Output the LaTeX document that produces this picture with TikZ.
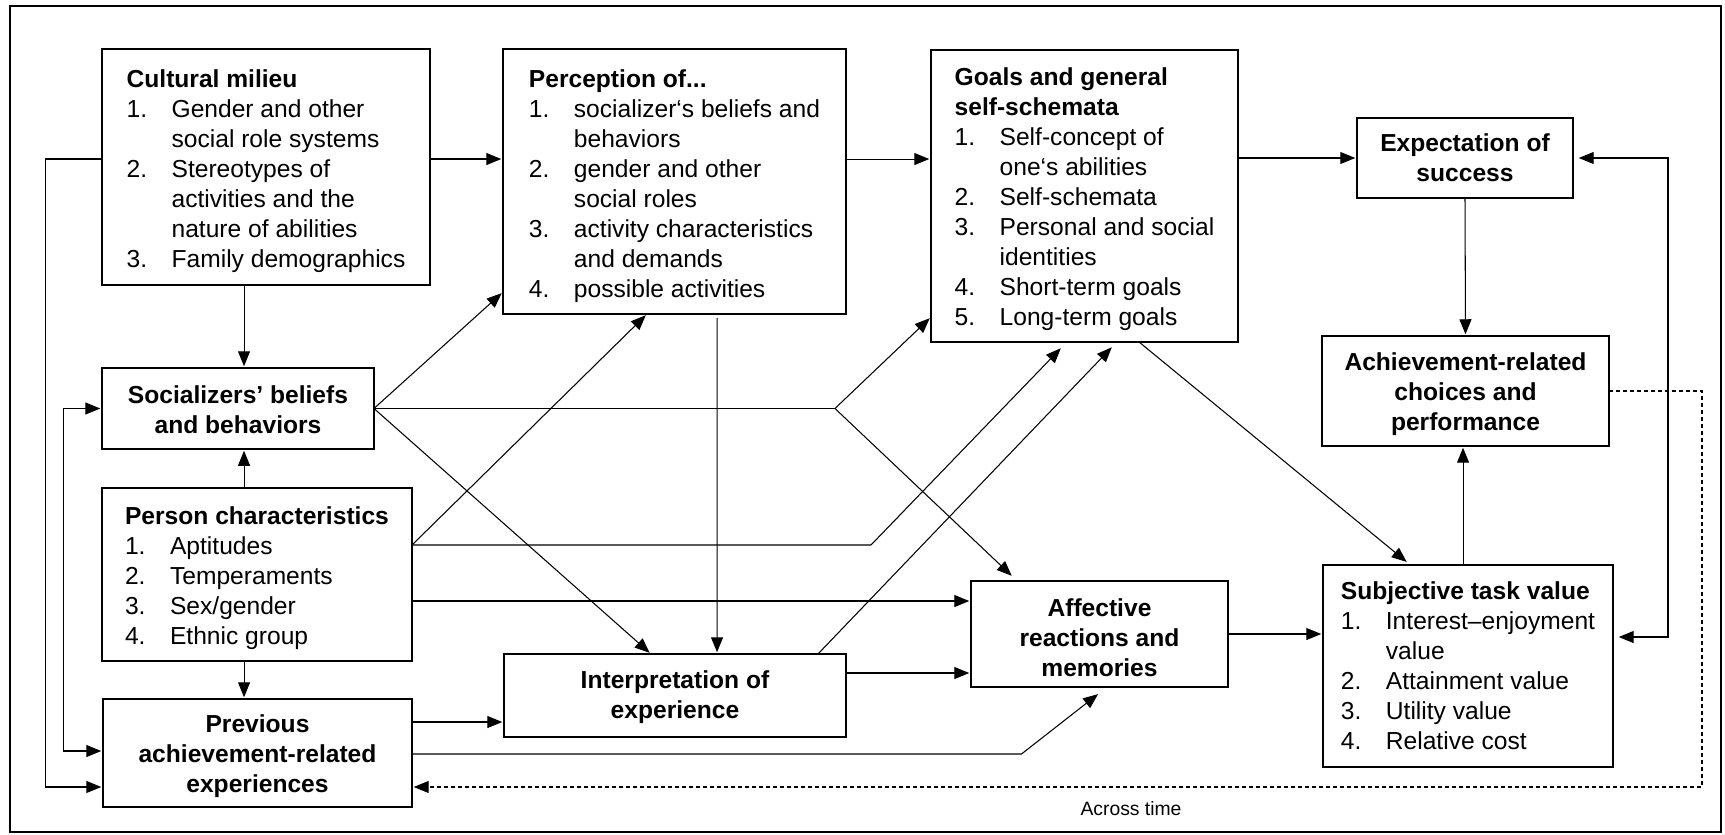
\documentclass[tikz,border=0pt]{standalone}
\usepackage{fontspec}
\setmainfont{Liberation Sans}
\usetikzlibrary{arrows.meta,calc}

% number column of the enumerated boxes
\newcommand\lnum[1]{\makebox[0.9cm][l]{#1}}
% extra room above the first line of a box
\newcommand\topstrut[1]{\rule{0pt}{#1}}

\begin{document}
\begin{tikzpicture}[x=0.02cm,y=-0.02cm,
  >={Triangle[length=0.3cm,width=0.24cm]},
  box/.style={draw,line width=1.1pt,inner sep=0pt,outer sep=0pt,
    font=\fontsize{14}{17.07}\selectfont},
  listbox/.style={box,align=left},
  headbox/.style={box,align=center,
    font=\fontsize{14}{17.07}\selectfont\bfseries},
  conn/.style={line width=0.6pt,->,shorten >=1pt},
  link/.style={line width=0.6pt},
  timeline/.style={conn,dash pattern=on 0.8mm off 0.6mm}]

\useasboundingbox (0,0) rectangle (1725,835);
\draw[line width=1.2pt] (10,6) rectangle (1721,832);

% ---------- boxes ----------
\node[listbox,minimum width=6.56cm,minimum height=4.72cm] (cm) at (266,167)
  {\topstrut{15pt}\textbf{Cultural milieu}\\
   \lnum{1.}Gender and other\\
   \lnum{}social role systems\\
   \lnum{2.}Stereotypes of\\
   \lnum{}activities and the\\
   \lnum{}nature of abilities\\
   \lnum{3.}Family demographics};

\node[listbox,minimum width=6.86cm,minimum height=5.30cm] (perc) at (674.5,181.5)
  {\topstrut{15pt}\textbf{Perception of...}\\
   \lnum{1.}socializer‘s beliefs and\\
   \lnum{}behaviors\\
   \lnum{2.}gender and other\\
   \lnum{}social roles\\
   \lnum{3.}activity characteristics\\
   \lnum{}and demands\\
   \lnum{4.}possible activities};

\node[listbox,minimum width=6.14cm,minimum height=5.84cm] (goals) at (1084.5,196)
  {\topstrut{14pt}\textbf{Goals and general}\\
   \textbf{self-schemata}\\
   \lnum{1.}Self-concept of\\
   \lnum{}one‘s abilities\\
   \lnum{2.}Self-schemata\\
   \lnum{3.}Personal and social\\
   \lnum{}identities\\
   \lnum{4.}Short-term goals\\
   \lnum{5.}Long-term goals};

\node[headbox,minimum width=4.32cm,minimum height=1.60cm] (expect) at (1465,158)
  {Expectation of\\ success};

\node[headbox,minimum width=5.74cm,minimum height=2.20cm] (achieve) at (1465.5,391)
  {\topstrut{13.5pt}Achievement-related\\ choices and\\ performance};

\node[headbox,minimum width=5.44cm,minimum height=1.62cm] (soc) at (238,408.5)
  {\topstrut{12pt}Socializers’ beliefs\\ and behaviors};

\node[listbox,minimum width=6.20cm,minimum height=3.46cm] (person) at (257,574.5)
  {\topstrut{14pt}\textbf{Person characteristics}\\
   \lnum{1.}Aptitudes\\
   \lnum{2.}Temperaments\\
   \lnum{3.}Sex/gender\\
   \lnum{4.}Ethnic group};

\node[headbox,minimum width=6.18cm,minimum height=2.16cm] (prev) at (257.5,753)
  {\topstrut{14pt}Previous\\ achievement-related\\ experiences};

\node[headbox,minimum width=6.84cm,minimum height=1.66cm] (interp) at (675,695.5)
  {\topstrut{12pt}Interpretation of\\ experience};

\node[headbox,minimum width=5.14cm,minimum height=2.12cm] (affect) at (1099.5,634)
  {\topstrut{14pt}Affective\\ reactions and\\ memories};

\node[listbox,minimum width=5.80cm,minimum height=4.04cm] (stv) at (1468,666)
  {\textbf{Subjective task value}\\
   \lnum{1.}Interest–enjoyment\\
   \lnum{}value\\
   \lnum{2.}Attainment value\\
   \lnum{3.}Utility value\\
   \lnum{4.}Relative cost};

\node[font=\fontsize{11}{13}\selectfont] (time) at (1131,809) {Across time};

% ---------- anchor points on the box edges ----------
\coordinate (cmR)   at ($(cm.north east)+(0,110)$);
\coordinate (cmL)   at ($(cm.north west)+(0,110)$);
\coordinate (percR) at ($(perc.north east)+(0,110)$);
\coordinate (socX)  at ($(soc.north west)+(142,0)$);
\coordinate (prevX) at ($(prev.north west)+(141,0)$);
\coordinate (prevA) at ($(prev.north east)+(0,23)$);
\coordinate (prevB) at ($(prev.north east)+(0,55)$);
\coordinate (prevT) at ($(prev.south east)+(0,-20)$);
\coordinate (prevTL) at ($(prev.south west)+(0,-20)$);
\coordinate (prevIn) at ($(prev.north west)+(0,52)$);
\coordinate (interpA) at ($(interp.north east)+(0,19)$);
\coordinate (perA)  at ($(person.north east)+(0,57)$);
\coordinate (perB)  at ($(person.north east)+(0,113)$);
\coordinate (percIn) at ($(perc.south west)+(0,-22)$);
\coordinate (percBot) at ($(perc.south west)+(144,0)$);
\coordinate (percOut) at ($(perc.south west)+(214,4)$);
\coordinate (interpT1) at ($(interp.north west)+(147,0)$);
\coordinate (interpT2) at ($(interp.north west)+(213,0)$);
\coordinate (interpOut) at ($(interp.north east)+(-28,0)$);
\coordinate (goalsIn) at ($(goals.south west)+(0,-25)$);
\coordinate (goalsB1) at ($(goals.south west)+(131,5)$);
\coordinate (goalsB2) at ($(goals.south west)+(182,4)$);
\coordinate (goalsOut) at ($(goals.south west)+(208,0)$);
\coordinate (affIn)  at ($(affect.north west)+(42,-4)$);
\coordinate (affBot) at ($(affect.south)+(0,6)$);
\coordinate (stvIn)  at ($(stv.north west)+(85,-2)$);
\coordinate (stvR)   at ($(stv.north east)+(4,72)$);
\coordinate (achX)   at ($(achieve.south west)+(141,0)$);
\coordinate (socFork) at ($(soc.east)+(461,0)$);
\coordinate (perFork) at ($(perA)+(459,0)$);
\coordinate (prevBend) at ($(affect.south)+(-78,67)$);

% ---------- connectors ----------
\draw[conn] (cmR) -- (cmR -| perc.west);
\draw[conn] (percR) -- (percR -| goals.west);
\draw[conn] (goals.east |- expect.west) -- (expect.west);
\draw[conn] (expect.south) -- (achieve.north);
\draw[conn] (achX |- stv.north) -- (achX);
\draw[conn] (cm.south -| socX) -- (socX);
\draw[conn] (person.north -| socX) -- (soc.south -| socX);
\draw[conn] (prevX |- person.south) -- (prevX);
\draw[conn] (prevA) -- (prevA -| interp.west);
\draw[conn] (prevB) -- (prevBend) -- (affBot);
\draw[conn] (interpA) -- (interpA -| affect.west);
\draw[conn] (perB) -- (perB -| affect.west);
\draw[conn] (affect.east) -- (affect.east -| stv.west);

% socializers
\draw[conn] (soc.east) -- (percIn);
\draw[conn] (soc.east) -- (interpT1);
\draw[link] (soc.east) -- (socFork);
\draw[conn] (socFork) -- (goalsIn);
\draw[conn] (socFork) -- (affIn);

% person characteristics
\draw[conn] (perA) -- (percBot);
\draw[conn] (perA) -- (perFork) -- (goalsB1);

% perception, interpretation and goals
\draw[conn] (percOut) -- (interpT2);
\draw[conn] (interpOut) -- (goalsB2);
\draw[conn] (goalsOut) -- (stvIn);

% feedback on the right
\draw[line width=0.6pt,<->,shorten >=1pt,shorten <=1pt]
  ($(expect.east)+(4,0)$) -- ++(91,0) |- (stvR);

% left-hand links
\draw[conn] (cmL) -- ++(-57,0) |- (prevTL);
\draw[line width=0.6pt,<->,shorten >=1pt,shorten <=1pt]
  (soc.west) -- ++(-39,0) |- (prevIn);

% across time
\draw[timeline] (achieve.east) -- ++(93,0) |- (prevT);
\end{tikzpicture}
\end{document}
